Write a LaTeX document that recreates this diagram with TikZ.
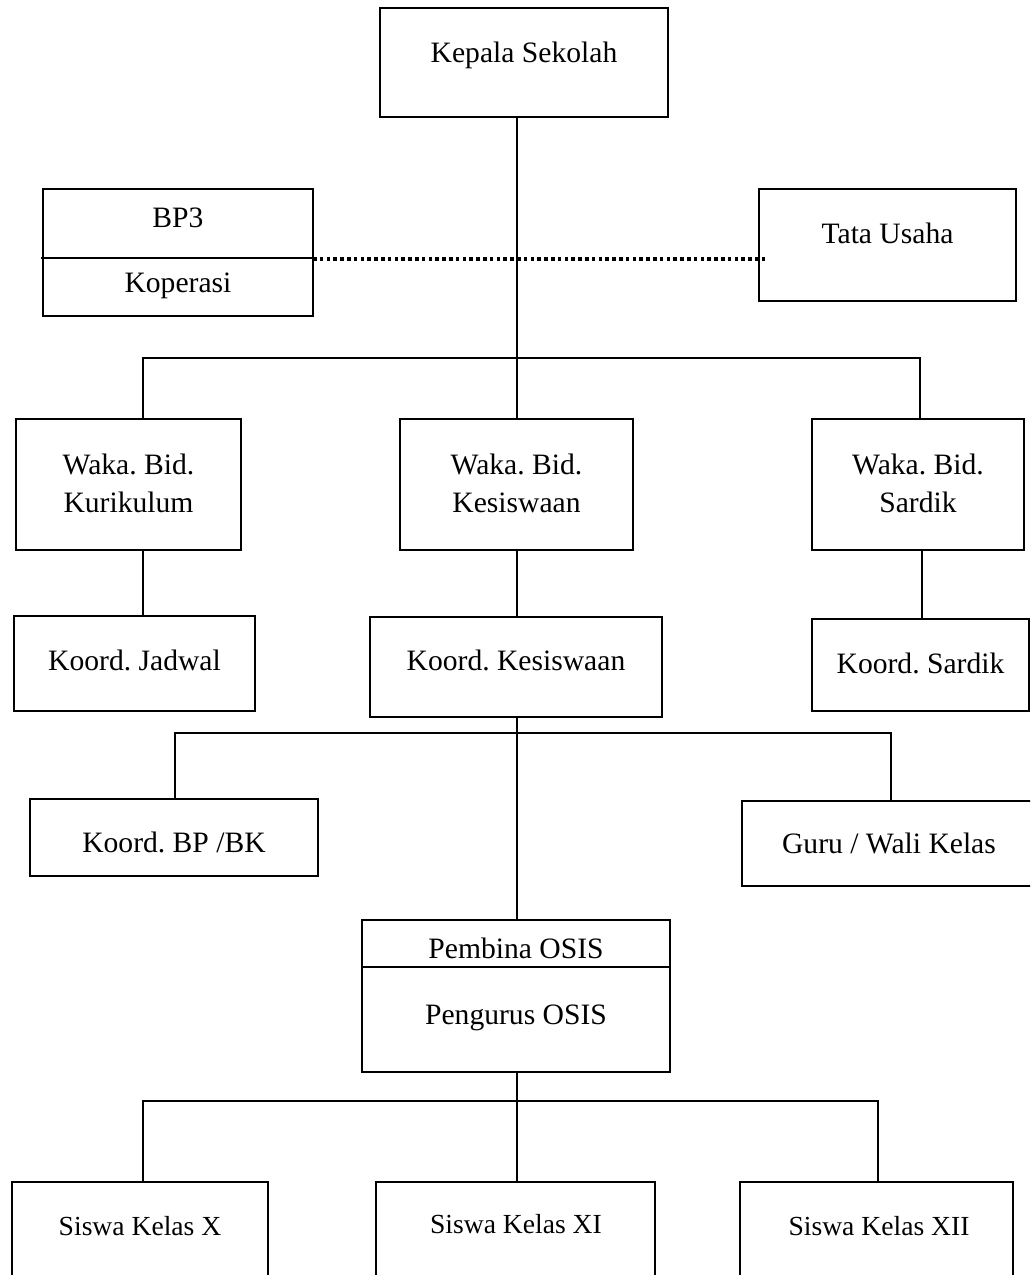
\documentclass[tikz,border=0pt]{standalone}
\usepackage{fontspec}
\setmainfont{Liberation Serif}
\frenchspacing
\newcommand\orgbox[5]{\node[box, minimum width={(#3-#2)*0.5pt}, minimum height={(#5-#4)*0.5pt}] (#1) at ({(#2+#3)/2},{(#4+#5)/2}) {};}
\newcommand\twoline[2]{\begin{tabular}[t]{@{}c@{}}#1\\#2\end{tabular}}
\begin{document}
\begin{tikzpicture}[x=0.5pt,y=-0.5pt,
  box/.style={draw, line width=0.8pt, inner sep=0pt, outer sep=0pt},
  lbl/.style={anchor=base, inner sep=0pt, font=\fontsize{14.8}{19}\selectfont\frenchspacing},
  slbl/.style={anchor=base, inner sep=0pt, font=\fontsize{13.8}{17}\selectfont\frenchspacing},
  conn/.style={line width=0.8pt},
  dotline/.style={line width=1.8pt, dash pattern=on 1.8pt off 1.6pt}]
\useasboundingbox (0,0) rectangle (1030,1275);
\begin{scope}
\clip (0,0) rectangle (1030,1275);
% boxes
\orgbox{kep}{380}{668}{8}{117}
\orgbox{bp3}{43}{313}{189}{316}
\orgbox{tata}{759}{1016}{189}{301}
\orgbox{wkur}{16}{241}{419}{550}
\orgbox{wkes}{400}{633}{419}{550}
\orgbox{wsar}{812}{1024}{419}{550}
\orgbox{kjad}{14}{255}{616}{711}
\orgbox{kkes}{370}{662}{617}{717}
\orgbox{ksar}{812}{1029}{619}{711}
\orgbox{kbp}{30}{318}{799}{876}
\orgbox{guru}{742}{1036}{801}{886}
\orgbox{osis}{362}{670}{920}{1072}
\orgbox{sx}{12}{268}{1182}{1300}
\orgbox{sxi}{376}{655}{1182}{1300}
\orgbox{sxii}{740}{1013}{1182}{1300}
% dividers inside boxes
\draw[conn] (41,258) -- (bp3.east |- 0,258);
\draw[conn] (osis.west |- 0,967) -- (osis.east |- 0,967);
% labels
\node[lbl] (tkep) at (524,62) {Kepala Sekolah};
\node[lbl] (tbp3) at (178,227) {BP3};
\node[lbl] (tkop) at (178,292) {Koperasi};
\node[lbl] (ttata) at (887.5,243) {Tata Usaha};
\node[lbl] (twkur) at (128.5,474) {\twoline{Waka. Bid.}{Kurikulum}};
\node[lbl] (twkes) at (516.5,474) {\twoline{Waka. Bid.}{Kesiswaan}};
\node[lbl] (twsar) at (918,474) {\twoline{Waka. Bid.}{Sardik}};
\node[lbl] (tkjad) at (134.5,670) {Koord. Jadwal};
\node[lbl] (tkkes) at (516,670) {Koord. Kesiswaan};
\node[lbl] (tksar) at (920.5,673) {Koord. Sardik};
\node[lbl] (tkbp) at (174,852) {Koord. BP /BK};
\node[lbl] (tguru) at (889,853) {Guru / Wali Kelas};
\node[lbl] (tpemb) at (516,958) {Pembina OSIS};
\node[lbl] (tpeng) at (516,1024) {Pengurus OSIS};
\node[slbl] (tsx) at (140,1235) {Siswa Kelas X};
\node[slbl] (tsxi) at (516,1233) {Siswa Kelas XI};
\node[slbl] (tsxii) at (879,1235) {Siswa Kelas XII};
% bus coordinates
\coordinate (b1l) at (143,358);
\coordinate (b1m) at (517,358);
\coordinate (b1r) at (920,358);
\coordinate (b2l) at (175,733);
\coordinate (b2m) at (517,733);
\coordinate (b2r) at (891,733);
\coordinate (b3l) at (143,1101);
\coordinate (b3m) at (517,1101);
\coordinate (b3r) at (878,1101);
\coordinate (dotend) at (768,259);
% connectors
\draw[conn] (kep.south -| b1m) -- (wkes.north -| b1m);
\draw[conn] (wkur.north -| b1l) -- (b1l) -- (b1r) -- (wsar.north -| b1r);
\draw[conn] (wkur.south -| b1l) -- (kjad.north -| b1l);
\draw[conn] (wkes.south -| b1m) -- (kkes.north -| b1m);
\draw[conn] (wsar.south -| 922,0) -- (ksar.north -| 922,0);
\draw[conn] (kkes.south -| b2m) -- (osis.north -| b2m);
\draw[conn] (kbp.north -| b2l) -- (b2l) -- (b2r) -- (guru.north -| b2r);
\draw[conn] (osis.south -| b3m) -- (sxi.north -| b3m);
\draw[conn] (sx.north -| b3l) -- (b3l) -- (b3r) -- (sxii.north -| b3r);
\draw[dotline] (bp3.east |- dotend) -- (dotend);
\end{scope}
\end{tikzpicture}
\end{document}
